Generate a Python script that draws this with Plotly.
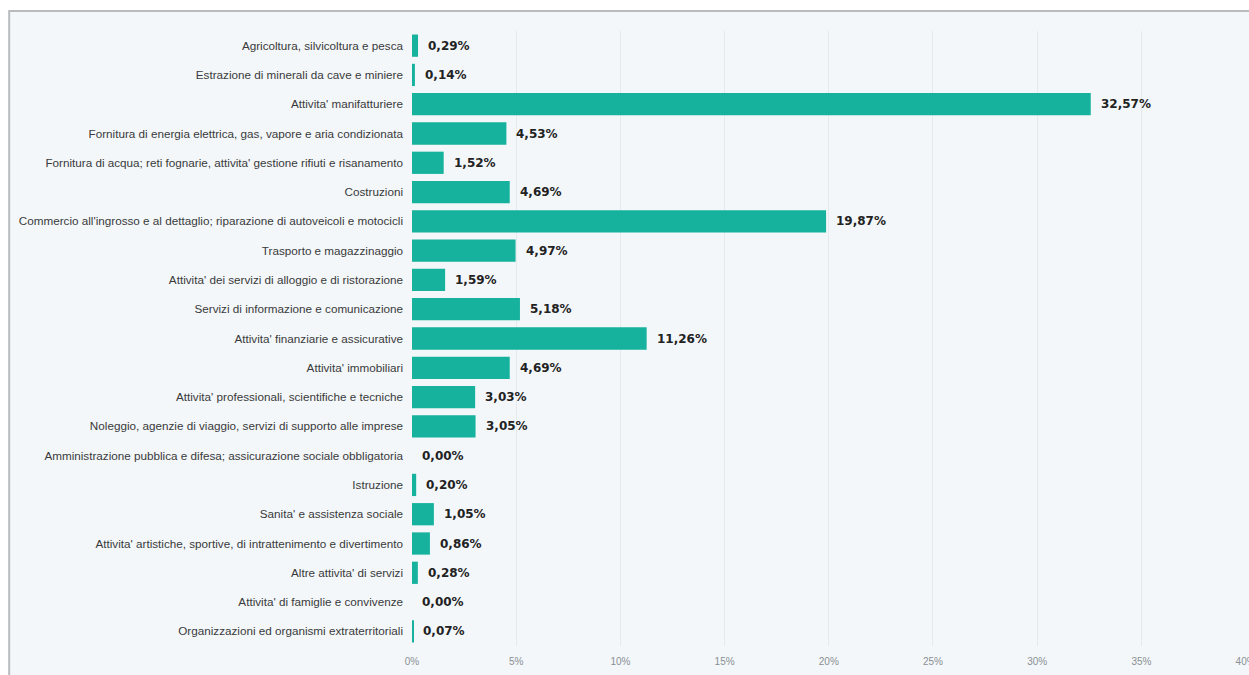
import plotly.graph_objects as go

# Settori economici (ATECO) e quota percentuale
settori = [
    "Agricoltura, silvicoltura e pesca",
    "Estrazione di minerali da cave e miniere",
    "Attivita' manifatturiere",
    "Fornitura di energia elettrica, gas, vapore e aria condizionata",
    "Fornitura di acqua; reti fognarie, attivita' gestione rifiuti e risanamento",
    "Costruzioni",
    "Commercio all'ingrosso e al dettaglio; riparazione di autoveicoli e motocicli",
    "Trasporto e magazzinaggio",
    "Attivita' dei servizi di alloggio e di ristorazione",
    "Servizi di informazione e comunicazione",
    "Attivita' finanziarie e assicurative",
    "Attivita' immobiliari",
    "Attivita' professionali, scientifiche e tecniche",
    "Noleggio, agenzie di viaggio, servizi di supporto alle imprese",
    "Amministrazione pubblica e difesa; assicurazione sociale obbligatoria",
    "Istruzione",
    "Sanita' e assistenza sociale",
    "Attivita' artistiche, sportive, di intrattenimento e divertimento",
    "Altre attivita' di servizi",
    "Attivita' di famiglie e convivenze",
    "Organizzazioni ed organismi extraterritoriali",
]
quote = [0.29, 0.14, 32.57, 4.53, 1.52, 4.69, 19.87, 4.97, 1.59, 5.18,
         11.26, 4.69, 3.03, 3.05, 0.00, 0.20, 1.05, 0.86, 0.28, 0.00, 0.07]
tick_vals = [0, 5, 10, 15, 20, 25, 30, 35, 40]
tick_text = [f"{t}%" for t in tick_vals]

BAR = "#17b29d"
BOX_BG = "#f3f7fa"

fig = go.Figure(go.Bar(
    x=quote, y=settori, orientation="h",
    marker=dict(color=BAR, line=dict(width=0)),
    width=0.76,
    hoverinfo="skip",
    cliponaxis=False,
))

annotations = [
    dict(x=v, y=s, xref="x", yref="y", text=f"{v:.2f}".replace(".", ",") + "%",
         showarrow=False, xanchor="left", xshift=8,
         font=dict(family="DejaVu Sans", size=12, color="#222222", weight="bold"))
    for s, v in zip(settori, quote)
]

fig.update_layout(
    width=1249, height=675,
    margin=dict(l=412, r=3, t=31, b=29, autoexpand=False),
    paper_bgcolor="white",
    plot_bgcolor=BOX_BG,
    showlegend=False,
    separators=",.",
    annotations=annotations,
    shapes=[dict(type="rect", xref="paper", yref="paper",
                 x0=-0.483, x1=1.05, y0=-0.2, y1=1.0325,
                 line=dict(color="#b9bcbe", width=2), fillcolor=BOX_BG,
                 layer="below")],
    xaxis=dict(range=[0, 40.02], tickmode="array", tickvals=tick_vals, ticktext=tick_text,
               showgrid=True, gridcolor="#e4eaee", gridwidth=1, automargin=False,
               zeroline=False, showline=False, ticks="", ticklabelstandoff=8,
               ticklabeloverflow="allow",
               tickfont=dict(family="Liberation Sans Narrow, Liberation Sans, Arial", size=10, color="#8a8f94")),
    yaxis=dict(autorange="reversed", showgrid=False, zeroline=False, automargin=False,
               showline=False, ticks="", ticklabelstandoff=8,
               tickfont=dict(family="Liberation Sans, Arial", size=11.7, color="#3a3a3a")),
)

fig.write_html("out.html")
